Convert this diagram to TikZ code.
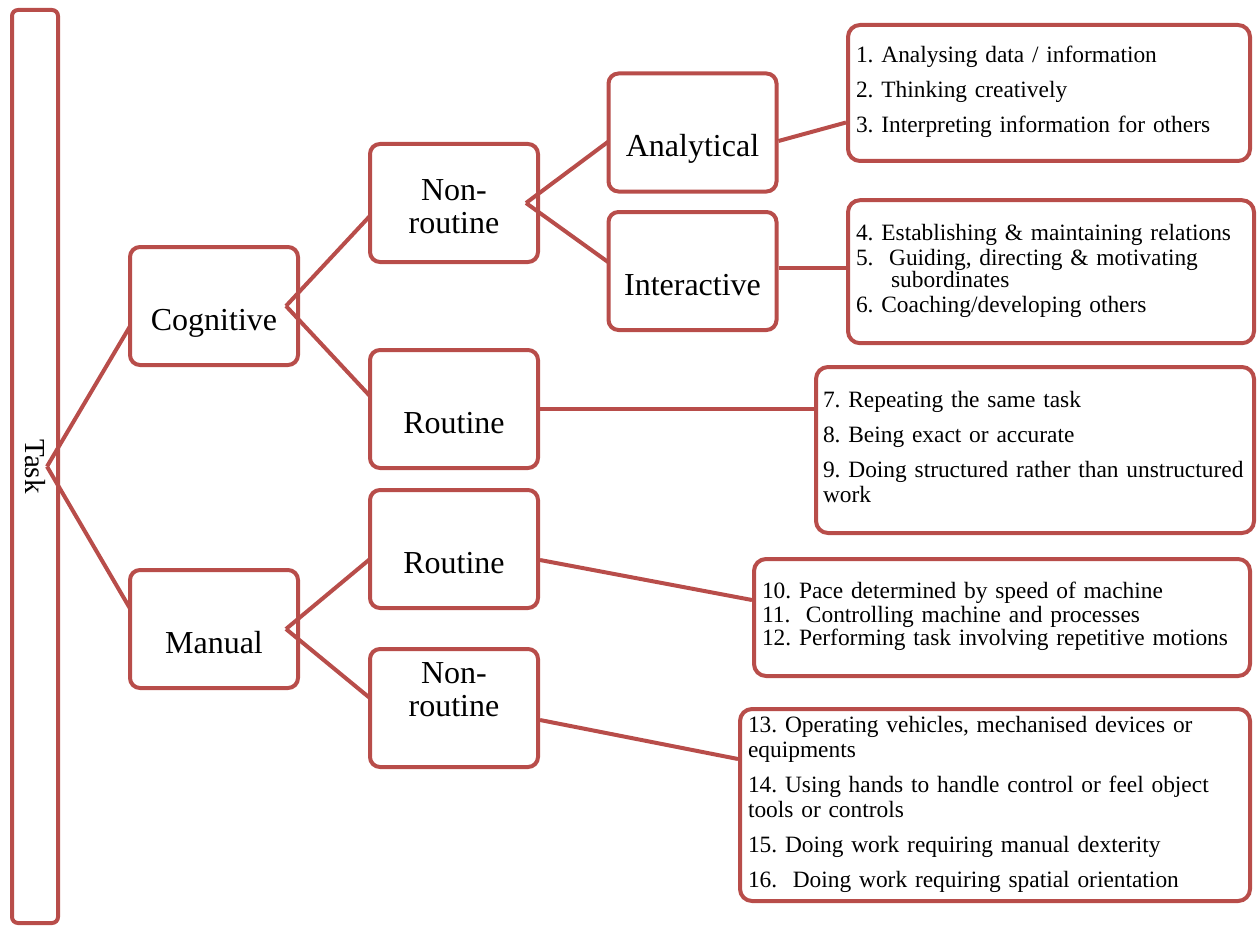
\documentclass[tikz,border=0pt]{standalone}
\usepackage{fontspec}
\setmainfont{Liberation Serif}
\usetikzlibrary{positioning}
\definecolor{brd}{HTML}{B84D4A}
\pgfdeclarelayer{wireA}
\pgfdeclarelayer{boxA}
\pgfdeclarelayer{wireB}
\pgfdeclarelayer{boxB}
\pgfdeclarelayer{wireC}
\pgfdeclarelayer{boxC}
\pgfsetlayers{main,wireA,boxA,wireB,boxB,wireC,boxC}
\tikzset{
  tbox/.style = {rectangle, rounded corners=6pt, draw=brd, line width=4pt, fill=white,
                 minimum width=46pt, minimum height=913pt,
                 font=\fontsize{29}{30}\selectfont},
  mbox/.style = {rectangle, rounded corners=10pt, draw=brd, line width=4pt, fill=white,
                 minimum width=168pt, minimum height=118pt, inner xsep=8pt,
                 text width=152pt, align=center, text height=48pt, text depth=0pt,
                 font=\fontsize{32}{33}\selectfont},
  lbox/.style = {rectangle, rounded corners=12pt, draw=brd, line width=4pt, fill=white,
                 inner xsep=8pt, align=left, font=\fontsize{23.4}{25}\selectfont,
                 execute at begin node={\frenchspacing\hyphenpenalty=10000\strut},
                 execute at end node=\strut},
  wire/.style = {draw=brd, line width=4pt},
}

\begin{document}
\begin{tikzpicture}[x=1pt, y=-1pt]
  \useasboundingbox (0,0) rectangle (1257,928);

  % ── root
  \node[tbox] (task) at (35,466.5) {\rotatebox{-90}{Task}};

  % ── first level
  \begin{pgfonlayer}{boxA}
    \node[mbox] (cog) at (214,306) {Cognitive};
    \node[mbox] (man) at (214,629) {Manual};
  \end{pgfonlayer}

  % ── second level
  \begin{pgfonlayer}{boxB}
    \node[mbox, text height=0pt, text depth=5pt]  (nrc) at (454,203) {Non-\\routine};
    \node[mbox]                                   (rtc) at (454,409) {Routine};
    \node[mbox]                                   (rtm) at (454,549) {Routine};
    \node[mbox, text height=0pt, text depth=50pt] (nrm) at (454,708) {Non-\\routine};
  \end{pgfonlayer}

  % ── third level
  \begin{pgfonlayer}{boxC}
    \node[mbox] (ana) at (692.5,132.5) {Analytical};
    \node[mbox] (int) at (692.5,271)   {Interactive};
  \end{pgfonlayer}

  % ── task lists
  \node[lbox, minimum width=402pt, text width=386pt, minimum height=136pt] (lst1) at (1049,93)
    {1. Analysing data / information\\[10pt]2. Thinking creatively\\[10pt]3. Interpreting information for others};
  \node[lbox, minimum width=406pt, text width=390pt, minimum height=143pt] (lst2) at (1051,271.7)
    {4. Establishing \& maintaining relations\\5.~ Guiding, directing \& motivating\\[-3pt]\hspace*{1.5em}subordinates\\6. Coaching/developing others};
  \node[lbox, inner xsep=7pt, minimum width=438pt, text width=424pt, minimum height=166pt] (lst3) at (1035,450)
    {7. Repeating the same task\\[10pt]8. Being exact or accurate\\[10pt]\mbox{9. Doing structured rather than unstructured}\\work};
  \node[lbox, font=\fontsize{23.4}{23.3}\selectfont, minimum width=496pt, text width=480pt, minimum height=117pt] (lst4) at (1002,617.5)
    {10. Pace determined by speed of machine\\11.~ Controlling machine and processes\\12. Performing task involving repetitive motions};
  \node[lbox, minimum width=510pt, text width=494pt, minimum height=192pt] (lst5) at (995,805)
    {13. Operating vehicles, mechanised devices or\\equipments\\[10pt]14. Using hands to handle control or feel object\\tools or controls\\[10pt]15. Doing work requiring manual dexterity\\[10pt]16.~ Doing work requiring spatial orientation};

  % ── connectors
  \begin{pgfonlayer}{wireA}
    \draw[wire] ([xshift=-13pt]task.east) -- ([xshift=14pt]cog.west);
    \draw[wire] ([xshift=-13pt]task.east) -- ([xshift=14pt]man.west);
  \end{pgfonlayer}
  \begin{pgfonlayer}{wireB}
    \draw[wire] ([xshift=-14pt]cog.east) -- ([xshift=14pt]nrc.west);
    \draw[wire] ([xshift=-14pt]cog.east) -- ([xshift=14pt]rtc.west);
    \draw[wire] ([xshift=-14pt]man.east) -- ([xshift=14pt]rtm.west);
    \draw[wire] ([xshift=-14pt]man.east) -- ([xshift=14pt]nrm.west);
  \end{pgfonlayer}
  \begin{pgfonlayer}{wireC}
    \draw[wire] ([xshift=-14pt]nrc.east) -- ([xshift=14pt]ana.west);
    \draw[wire] ([xshift=-14pt]nrc.east) -- ([xshift=14pt]int.west);
  \end{pgfonlayer}
  \draw[wire] ([yshift=-8.5pt]ana.east) -- ([yshift=-29.5pt]lst1.west);
  \draw[wire] ([yshift=3pt]int.east)    -- ([yshift=3pt]int.east -| lst2.west);
  \draw[wire] (rtc.east)                -- (rtc.east -| lst3.west);
  \draw[wire] ([yshift=-11pt]rtm.east)  -- ([yshift=17.5pt]lst4.west);
  \draw[wire] ([yshift=-12pt]nrm.east)  -- ([yshift=46pt]lst5.west);

\end{tikzpicture}
\end{document}
